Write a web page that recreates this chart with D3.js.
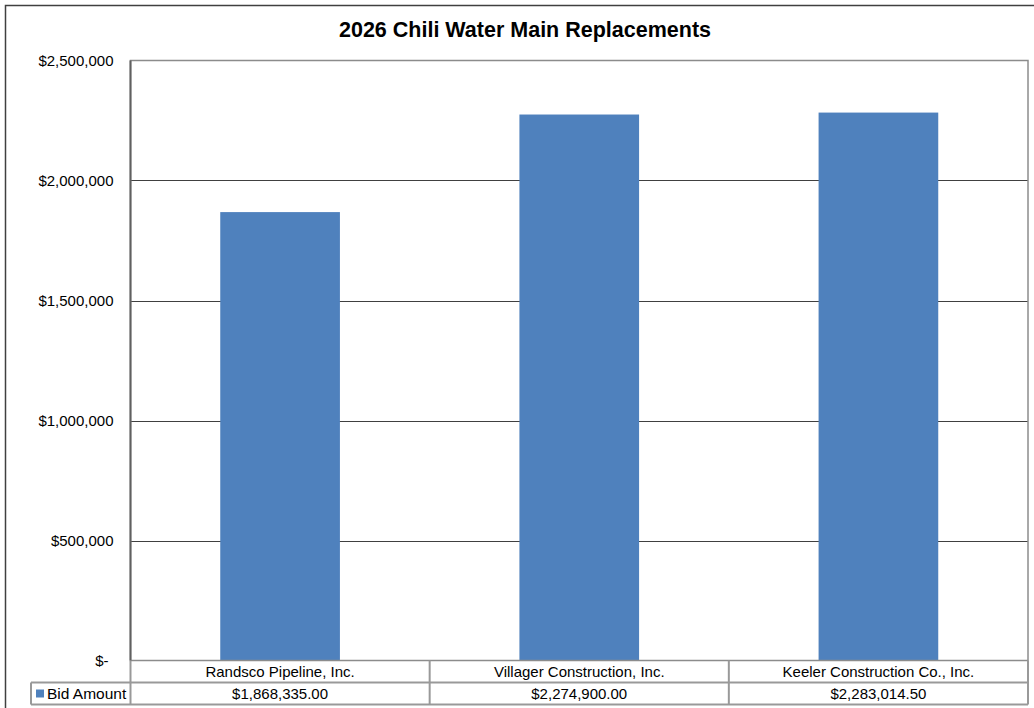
<!DOCTYPE html>
<meta charset="utf-8">
<script src="https://d3js.org/d3.v7.min.js"></script>
<style>
body { margin: 0; background: #fff; }
text { font-family: "Liberation Sans", Arial, sans-serif; fill: #000; }
</style>
<body>
<div id="chart"></div>
<script>
// data
var bidders = ["Randsco Pipeline, Inc.", "Villager Construction, Inc.", "Keeler Construction Co., Inc."];
var bids = [1868335.00, 2274900.00, 2283014.50];
var seriesName = "Bid Amount";
var yTicks = [0, 500000, 1000000, 1500000, 2000000, 2500000];

var W = 1034, H = 708;
var plot = {left: 130.5, right: 1028, top: 60.5, bottom: 660.5};
var rowH = 22;
var fs = "15px";

var svg = d3.select("#chart").append("svg")
  .attr("width", W).attr("height", H);

// outer chart border
svg.append("rect")
  .attr("x", 5.5).attr("y", 5.5)
  .attr("width", W + 10).attr("height", H + 10)
  .attr("fill", "none").attr("stroke", "#404040").attr("stroke-width", 1.5);

svg.append("text")
  .attr("x", 525).attr("y", 37)
  .attr("text-anchor", "middle")
  .style("font-size", "21.5px").style("font-weight", "bold")
  .text("2026 Chili Water Main Replacements");

var x = d3.scaleBand().domain(bidders).range([plot.left, plot.right]).paddingInner(0).paddingOuter(0);
var y = d3.scaleLinear().domain([0, 2500000]).range([plot.bottom, plot.top]);

// gridlines
svg.append("g").selectAll("line")
  .data(yTicks.slice(1, -1))
  .join("line")
  .attr("x1", plot.left).attr("x2", plot.right)
  .attr("y1", function(d) { return Math.round(y(d)) + 0.5; })
  .attr("y2", function(d) { return Math.round(y(d)) + 0.5; })
  .attr("stroke", "#404040").attr("stroke-width", 1);

// bars
var barW = x.bandwidth() * 0.4;
svg.append("g").selectAll("rect")
  .data(bids)
  .join("rect")
  .attr("x", function(d, i) { return x(bidders[i]) + (x.bandwidth() - barW) / 2; })
  .attr("y", function(d) { return y(d); })
  .attr("width", barW)
  .attr("height", function(d) { return plot.bottom - y(d); })
  .attr("fill", "#4f81bd");

// plot frame
svg.append("rect")
  .attr("x", plot.left).attr("y", plot.top)
  .attr("width", plot.right - plot.left).attr("height", plot.bottom - plot.top)
  .attr("fill", "none").attr("stroke", "#8c8c8c").attr("stroke-width", 1.5);
svg.append("line")
  .attr("x1", plot.left).attr("x2", plot.left)
  .attr("y1", plot.top).attr("y2", plot.bottom)
  .attr("stroke", "#606060").attr("stroke-width", 2);

// y axis labels
var yAxis = d3.axisLeft(y)
  .tickValues(yTicks)
  .tickSize(0).tickPadding(17)
  .tickFormat(function(d) { return d === 0 ? "$-" : "$" + d3.format(",")(d); });
var ya = svg.append("g").attr("transform", "translate(" + plot.left + ",0)").call(yAxis);
ya.attr("font-size", null).attr("font-family", null);
ya.select(".domain").remove();
ya.selectAll("text")
  .style("font-size", fs)
  .attr("fill", "#000")
  .attr("dy", "0.3em")
  .attr("dx", function(d) { return d === 0 ? -5 : 0; });

// data table
var tbl = svg.append("g");
var tableStroke = "#999999";
var r1 = plot.bottom, r2 = plot.bottom + rowH, r3 = plot.bottom + 2 * rowH;
var legLeft = 31;

tbl.append("line").attr("x1", legLeft).attr("x2", plot.right).attr("y1", r2).attr("y2", r2)
  .attr("stroke", tableStroke).attr("stroke-width", 2);
tbl.append("line").attr("x1", legLeft).attr("x2", plot.right).attr("y1", r3).attr("y2", r3)
  .attr("stroke", tableStroke).attr("stroke-width", 2);
tbl.append("line").attr("x1", legLeft).attr("x2", legLeft).attr("y1", r2).attr("y2", r3)
  .attr("stroke", tableStroke).attr("stroke-width", 2);
tbl.append("line").attr("x1", plot.left).attr("x2", plot.left).attr("y1", r1).attr("y2", r3)
  .attr("stroke", tableStroke).attr("stroke-width", 2);
tbl.append("line").attr("x1", plot.right).attr("x2", plot.right).attr("y1", r1).attr("y2", r3)
  .attr("stroke", tableStroke).attr("stroke-width", 2);

tbl.selectAll("line.sep")
  .data(bidders.slice(1))
  .join("line").attr("class", "sep")
  .attr("x1", function(d) { return x(d); }).attr("x2", function(d) { return x(d); })
  .attr("y1", r1).attr("y2", r3)
  .attr("stroke", tableStroke).attr("stroke-width", 2);

tbl.selectAll("text.cat")
  .data(bidders)
  .join("text").attr("class", "cat")
  .attr("x", function(d) { return x(d) + x.bandwidth() / 2; })
  .attr("y", r1 + 16)
  .attr("text-anchor", "middle")
  .style("font-size", fs)
  .text(function(d) { return d; });

var money = d3.format("$,.2f");
tbl.selectAll("text.val")
  .data(bids)
  .join("text").attr("class", "val")
  .attr("x", function(d, i) { return x(bidders[i]) + x.bandwidth() / 2; })
  .attr("y", r2 + 16)
  .attr("text-anchor", "middle")
  .style("font-size", fs)
  .text(function(d) { return money(d); });

// legend key
tbl.append("rect")
  .attr("x", 36).attr("y", r2 + 7).attr("width", 8).attr("height", 8)
  .attr("fill", "#4f81bd");
tbl.append("text")
  .attr("x", 47).attr("y", r2 + 16)
  .style("font-size", "15.5px")
  .text(seriesName);
</script>
</body>
